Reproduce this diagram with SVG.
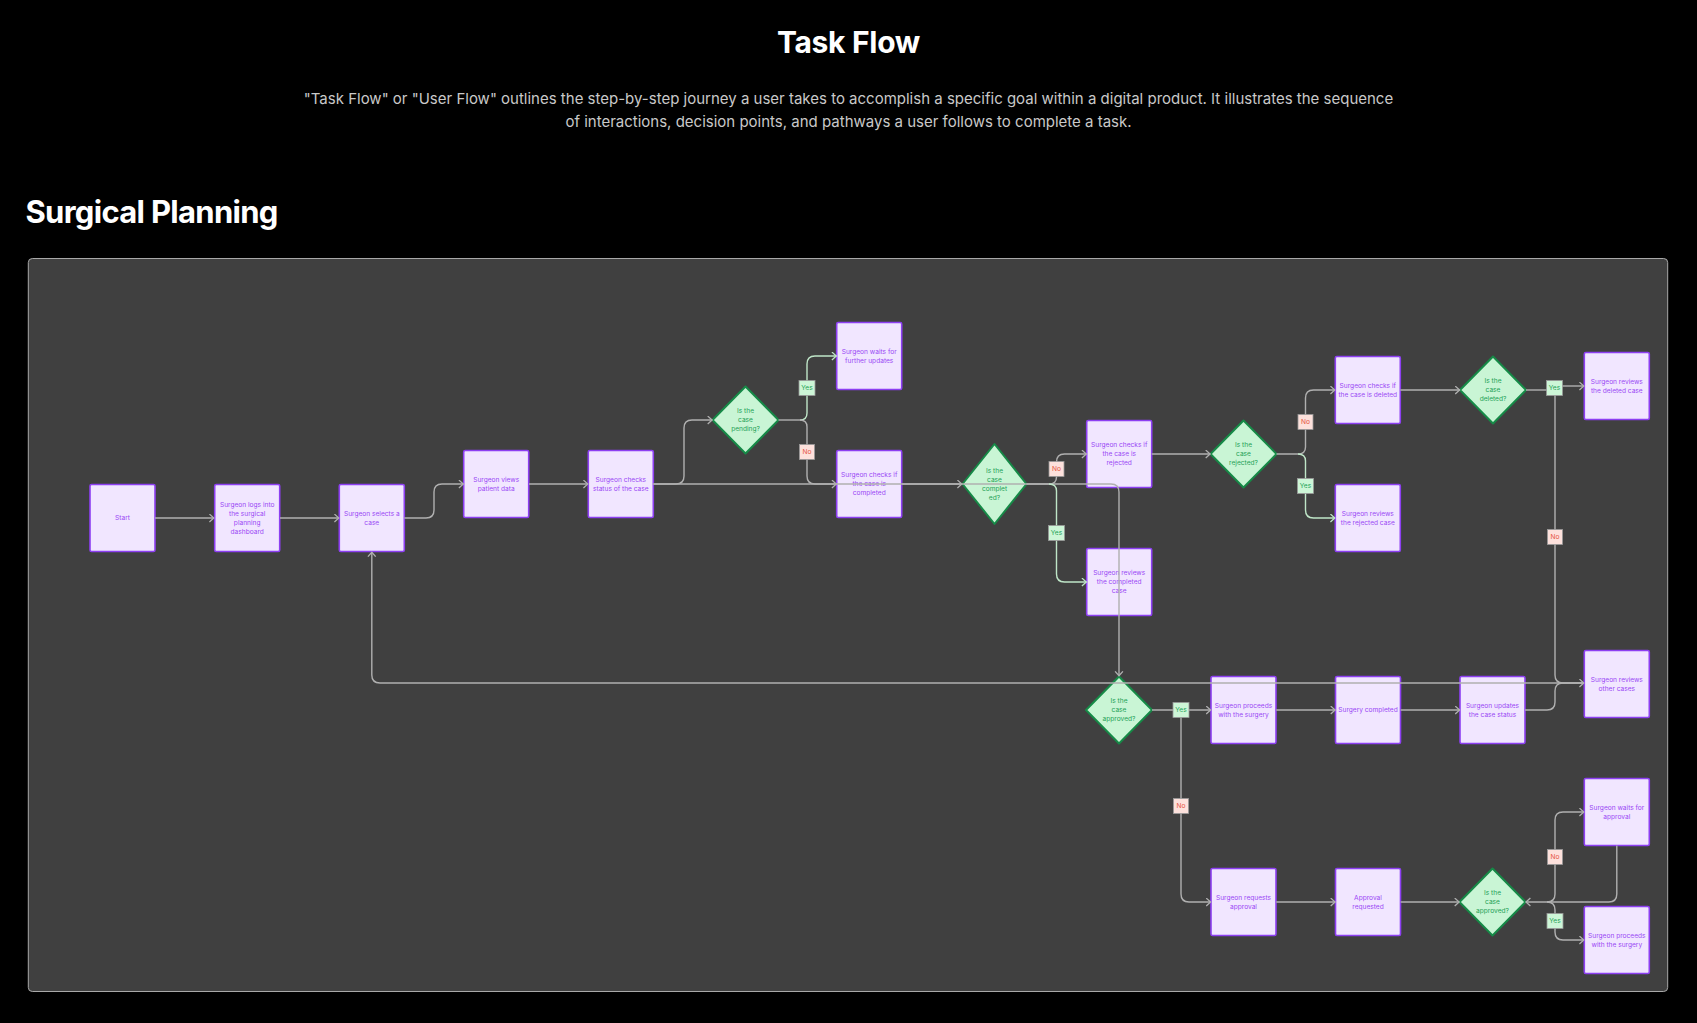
<svg xmlns="http://www.w3.org/2000/svg" width="1697" height="1023" viewBox="0 0 1697 1023">
<style>
.bg{fill:#000}
.panel{fill:#404040;stroke:#a8a8a8;stroke-width:1}
.h1{font-family:Inter,"Liberation Sans",sans-serif;font-weight:700;fill:#fff}
.sub{font-family:Inter,"Liberation Sans",sans-serif;font-size:15px;fill:#c9c9c9}
.box rect{fill:#f1e6ff;stroke:#8d3ff2;stroke-width:1.6}
.box text{font-family:Inter,"Liberation Sans",sans-serif;font-size:6.6px;fill:#9a47f5;text-anchor:middle;dominant-baseline:central}
.dia path{fill:#c9f5d5;stroke:#168a47;stroke-width:2;stroke-linejoin:round}
.dia text{font-family:Inter,"Liberation Sans",sans-serif;font-size:6.6px;fill:#23a155;text-anchor:middle;dominant-baseline:central}
.ln{fill:none;stroke:#b0b0b0;stroke-width:1.4}
.lg{fill:none;stroke:#bfe6c8;stroke-width:1.4}
.yes rect{fill:#cdf6d7;stroke:#9a9a9a;stroke-width:0.8}
.yes text{font-family:Inter,"Liberation Sans",sans-serif;font-size:6.6px;fill:#23a155;text-anchor:middle;dominant-baseline:central}
.no rect{fill:#fde1dc;stroke:#9a9a9a;stroke-width:0.8}
.no text{font-family:Inter,"Liberation Sans",sans-serif;font-size:6.6px;fill:#e5543f;text-anchor:middle;dominant-baseline:central}
</style>
<defs>
<marker id="arr" markerWidth="8" markerHeight="10" refX="5.2" refY="4.5" orient="auto" markerUnits="userSpaceOnUse"><path d="M0.6,0.6 L5,4.5 L0.6,8.4" fill="none" stroke="#b0b0b0" stroke-width="1.3"/></marker>
<marker id="arrg" markerWidth="8" markerHeight="10" refX="5.2" refY="4.5" orient="auto" markerUnits="userSpaceOnUse"><path d="M0.6,0.6 L5,4.5 L0.6,8.4" fill="none" stroke="#bfe6c8" stroke-width="1.3"/></marker>
</defs>
<rect class="bg" x="0" y="0" width="1697" height="1023"/>
<text class="h1" x="848.5" y="53.3" font-size="30" letter-spacing="-0.3" text-anchor="middle">Task Flow</text>
<text class="sub" x="848.5" y="104" text-anchor="middle">"Task Flow" or "User Flow" outlines the step-by-step journey a user takes to accomplish a specific goal within a digital product. It illustrates the sequence</text>
<text class="sub" x="848.5" y="127" text-anchor="middle">of interactions, decision points, and pathways a user follows to complete a task.</text>
<text class="h1" x="25.5" y="223.3" font-size="31" letter-spacing="-0.7">Surgical Planning</text>
<rect class="panel" x="28.3" y="258.5" width="1639.4" height="733" rx="4"/>

<g id="nodes-boxes">
<g id="n-start" class="box"><rect x="90" y="484.5" width="65" height="67" rx="1.5"/><text x="122.5" y="518">Start</text></g>
<g id="n-login" class="box"><rect x="214.7" y="484.5" width="65" height="67" rx="1.5"/><text x="247.2" y="504.5">Surgeon logs into</text><text x="247.2" y="513.5">the surgical</text><text x="247.2" y="522.5">planning</text><text x="247.2" y="531.5">dashboard</text></g>
<g id="n-select" class="box"><rect x="339.3" y="484.5" width="65" height="67" rx="1.5"/><text x="371.8" y="513.5">Surgeon selects a</text><text x="371.8" y="522.5">case</text></g>
<g id="n-views" class="box"><rect x="463.7" y="450.5" width="65" height="67" rx="1.5"/><text x="496.2" y="479.5">Surgeon views</text><text x="496.2" y="488.5">patient data</text></g>
<g id="n-status" class="box"><rect x="588.3" y="450.5" width="65" height="67" rx="1.5"/><text x="620.8" y="479.5">Surgeon checks</text><text x="620.8" y="488.5">status of the case</text></g>
<g id="n-waitupd" class="box"><rect x="836.7" y="322.5" width="65" height="67" rx="1.5"/><text x="869.2" y="351.5">Surgeon waits for</text><text x="869.2" y="360.5">further updates</text></g>
<g id="n-chkcomp" class="box"><rect x="836.7" y="450.5" width="65" height="67" rx="1.5"/><text x="869.2" y="475">Surgeon checks if</text><text x="869.2" y="484">the case is</text><text x="869.2" y="493">completed</text></g>
<g id="n-chkrej" class="box"><rect x="1086.7" y="420.5" width="65" height="67" rx="1.5"/><text x="1119.2" y="445">Surgeon checks if</text><text x="1119.2" y="454">the case is</text><text x="1119.2" y="463">rejected</text></g>
<g id="n-revcomp" class="box"><rect x="1086.7" y="548.5" width="65" height="67" rx="1.5"/><text x="1119.2" y="573">Surgeon reviews</text><text x="1119.2" y="582">the completed</text><text x="1119.2" y="591">case</text></g>
<g id="n-chkdel" class="box"><rect x="1335.3" y="356.5" width="65" height="67" rx="1.5"/><text x="1367.8" y="385.5">Surgeon checks if</text><text x="1367.8" y="394.5">the case is deleted</text></g>
<g id="n-revrej" class="box"><rect x="1335.3" y="484.5" width="65" height="67" rx="1.5"/><text x="1367.8" y="513.5">Surgeon reviews</text><text x="1367.8" y="522.5">the rejected case</text></g>
<g id="n-revdel" class="box"><rect x="1584.3" y="352.5" width="65" height="67" rx="1.5"/><text x="1616.8" y="381.5">Surgeon reviews</text><text x="1616.8" y="390.5">the deleted case</text></g>
<g id="n-revother" class="box"><rect x="1584.3" y="650.5" width="65" height="67" rx="1.5"/><text x="1616.8" y="679.5">Surgeon reviews</text><text x="1616.8" y="688.5">other cases</text></g>
<g id="n-proceed" class="box"><rect x="1211" y="676.5" width="65" height="67" rx="1.5"/><text x="1243.5" y="705.5">Surgeon proceeds</text><text x="1243.5" y="714.5">with the surgery</text></g>
<g id="n-surgdone" class="box"><rect x="1335.5" y="676.5" width="65" height="67" rx="1.5"/><text x="1368" y="710">Surgery completed</text></g>
<g id="n-update" class="box"><rect x="1460" y="676.5" width="65" height="67" rx="1.5"/><text x="1492.5" y="705.5">Surgeon updates</text><text x="1492.5" y="714.5">the case status</text></g>
<g id="n-request" class="box"><rect x="1211" y="868.5" width="65" height="67" rx="1.5"/><text x="1243.5" y="897.5">Surgeon requests</text><text x="1243.5" y="906.5">approval</text></g>
<g id="n-requested" class="box"><rect x="1335.5" y="868.5" width="65" height="67" rx="1.5"/><text x="1368" y="897.5">Approval</text><text x="1368" y="906.5">requested</text></g>
<g id="n-waitappr" class="box"><rect x="1584.3" y="778.5" width="65" height="67" rx="1.5"/><text x="1616.8" y="807.5">Surgeon waits for</text><text x="1616.8" y="816.5">approval</text></g>
<g id="n-proceed2" class="box"><rect x="1584.3" y="906.5" width="65" height="67" rx="1.5"/><text x="1616.8" y="935.5">Surgeon proceeds</text><text x="1616.8" y="944.5">with the surgery</text></g>
</g>

<g id="nodes-decisions">
<g id="d-pending" class="dia"><path d="M745.5,386.5 L778.5,420 L745.5,453.5 L712.5,420 Z"/><text x="745.5" y="411">Is the</text><text x="745.5" y="420">case</text><text x="745.5" y="429">pending?</text></g>
<g id="d-completed" class="dia"><path d="M994.5,444 L1026.5,484 L994.5,524 L962.5,484 Z"/><text x="994.5" y="470.5">Is the</text><text x="994.5" y="479.5">case</text><text x="994.5" y="488.5">complet</text><text x="994.5" y="497.5">ed?</text></g>
<g id="d-rejected" class="dia"><path d="M1243.5,420.5 L1276.5,454 L1243.5,487.5 L1210.5,454 Z"/><text x="1243.5" y="445">Is the</text><text x="1243.5" y="454">case</text><text x="1243.5" y="463">rejected?</text></g>
<g id="d-deleted" class="dia"><path d="M1493,356.5 L1526,390 L1493,423.5 L1460,390 Z"/><text x="1493" y="381">Is the</text><text x="1493" y="390">case</text><text x="1493" y="399">deleted?</text></g>
<g id="d-approved" class="dia"><path d="M1119,676.5 L1152,710 L1119,743.5 L1086,710 Z"/><text x="1119" y="701">Is the</text><text x="1119" y="710">case</text><text x="1119" y="719">approved?</text></g>
<g id="d-approved2" class="dia"><path d="M1492.5,868.5 L1525.5,902 L1492.5,935.5 L1459.5,902 Z"/><text x="1492.5" y="893">Is the</text><text x="1492.5" y="902">case</text><text x="1492.5" y="911">approved?</text></g>
</g>

<g id="connectors">
<path class="ln" d="M155,518 H214" marker-end="url(#arr)"/>
<path class="ln" d="M280,518 H339" marker-end="url(#arr)"/>
<path class="ln" d="M404.3,518 H426 Q434,518 434,510 V492 Q434,484 442,484 H463.5" marker-end="url(#arr)"/>
<path class="ln" d="M529,484 H588" marker-end="url(#arr)"/>
<path class="ln" d="M653.3,484 H676 Q684,484 684,476 V428 Q684,420 692,420 H712.3" marker-end="url(#arr)"/>
<path class="ln" d="M653.3,484 H1111 Q1119,484 1119,492 V676" marker-end="url(#arr)"/>
<path class="ln" d="M902,484 H962" marker-end="url(#arr)"/>
<path class="ln" d="M778.5,420 H800"/>
<path class="lg" d="M800,420 Q807,420 807,413 V364 Q807,356 815,356 H836.5" marker-end="url(#arrg)"/>
<path class="ln" d="M800,420 Q807,420 807,427 V476 Q807,484 815,484 H836.5" marker-end="url(#arr)"/>
<path class="ln" d="M1026.5,484 H1049 Q1056.5,484 1056.5,477 V462 Q1056.5,454 1064.5,454 H1086.5" marker-end="url(#arr)"/>
<path class="lg" d="M1049,484 Q1056.5,484 1056.5,491 V574 Q1056.5,582 1064.5,582 H1086.5" marker-end="url(#arrg)"/>
<path class="ln" d="M1151.7,454 H1210.3" marker-end="url(#arr)"/>
<path class="ln" d="M1276.5,454 H1298 Q1305.5,454 1305.5,447 V398 Q1305.5,390 1313.5,390 H1335" marker-end="url(#arr)"/>
<path class="lg" d="M1298,454 Q1305.5,454 1305.5,461 V510 Q1305.5,518 1313.5,518 H1335" marker-end="url(#arrg)"/>
<path class="ln" d="M1400.3,390 H1459.8" marker-end="url(#arr)"/>
<path class="ln" d="M1526,390 H1555"/>
<path class="ln" d="M1555,386 H1584" marker-end="url(#arr)"/>
<path class="ln" d="M1555,390 V675 Q1555,683 1563,683 H1584" marker-end="url(#arr)"/>
<path class="ln" d="M1525,710 H1547 Q1555,710 1555,702 V691 Q1555,683 1563,683 H1584"/>
<path class="ln" d="M1584,683 H380 Q371.8,683 371.8,675 V552" marker-end="url(#arr)"/>
<path class="ln" d="M1152,710 H1210.8" marker-end="url(#arr)"/>
<path class="ln" d="M1173,710 Q1181,710 1181,718 V894 Q1181,902 1189,902 H1210.8" marker-end="url(#arr)"/>
<path class="ln" d="M1276.2,710 H1335.3" marker-end="url(#arr)"/>
<path class="ln" d="M1400.6,710 H1459.8" marker-end="url(#arr)"/>
<path class="ln" d="M1276.2,902 H1335.3" marker-end="url(#arr)"/>
<path class="ln" d="M1400.6,902 H1459.3" marker-end="url(#arr)"/>
<path class="ln" d="M1616.8,845.5 V894 Q1616.8,902 1608.8,902 H1525.8" marker-end="url(#arr)"/>
<path class="ln" d="M1547,902 Q1555,902 1555,894 V820 Q1555,812 1563,812 H1584" marker-end="url(#arr)"/>
<path class="ln" d="M1547,902 Q1555,902 1555,910 V932 Q1555,940 1563,940 H1584" marker-end="url(#arr)"/>

<g class="yes"><rect x="799" y="380.5" width="16" height="15"/><text x="807" y="388">Yes</text></g>
<g class="no"><rect x="799.5" y="444.5" width="15" height="15"/><text x="807" y="452">No</text></g>
<g class="no"><rect x="1049" y="461.5" width="15" height="15"/><text x="1056.5" y="469">No</text></g>
<g class="yes"><rect x="1048.5" y="525.5" width="16" height="15"/><text x="1056.5" y="533">Yes</text></g>
<g class="no"><rect x="1298" y="414.5" width="15" height="15"/><text x="1305.5" y="422">No</text></g>
<g class="yes"><rect x="1297.5" y="478.5" width="16" height="15"/><text x="1305.5" y="486">Yes</text></g>
<g class="yes"><rect x="1546.5" y="380.5" width="16" height="15"/><text x="1554.5" y="388">Yes</text></g>
<g class="no"><rect x="1547.5" y="529.5" width="15" height="15"/><text x="1555" y="537">No</text></g>
<g class="yes"><rect x="1173" y="702.5" width="16" height="15"/><text x="1181" y="710">Yes</text></g>
<g class="no"><rect x="1173.5" y="798.5" width="15" height="15"/><text x="1181" y="806">No</text></g>
<g class="no"><rect x="1547.5" y="849.5" width="15" height="15"/><text x="1555" y="857">No</text></g>
<g class="yes"><rect x="1547" y="913.5" width="16" height="15"/><text x="1555" y="921">Yes</text></g>
</g>
</svg>
